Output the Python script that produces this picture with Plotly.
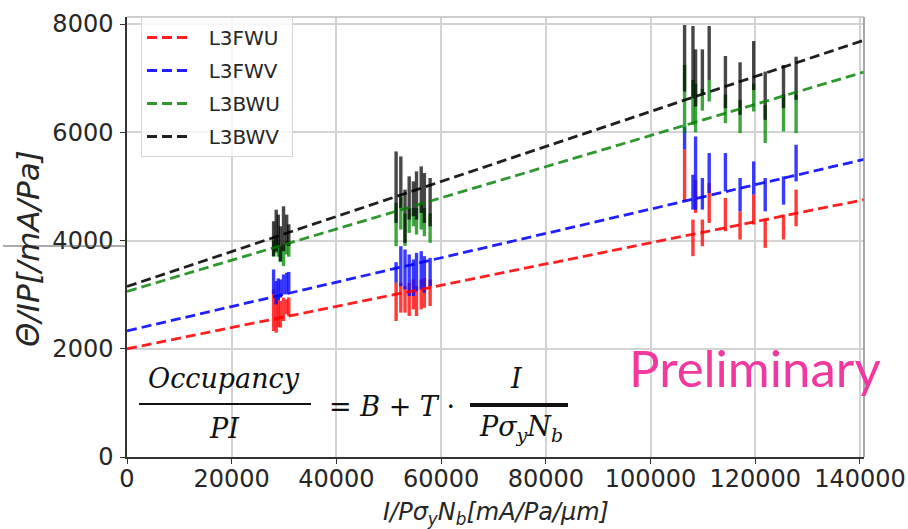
import plotly.graph_objects as go

# ---------------- data ----------------
SERIES = ["L3FWU", "L3FWV", "L3BWU", "L3BWV"]

X_POINTS = [28000, 28500, 28900, 29300, 29900, 30500, 30900,
            51400, 52300, 53100, 53900, 54700, 55300, 56200, 56800, 57900,
            106500, 108100, 108600, 109900, 111200, 114300, 117100, 119700, 121900, 125400, 127800]

RED_LOW = [2329, 2298, 2400, 2390, 2513, 2636, 2600,
           2513, 2667, 2667, 2605, 2728, 2605, 2728, 2759, 2789,
           4725, 3711, 4510, 3895, 4325, 4172, 4018, 4295, 3865, 4018, 4264]
RED_HIGH = [3097, 3004, 2950, 2882, 2943, 2912, 2950,
            3219, 3219, 3158, 3219, 3281, 3158, 3281, 3312, 3281,
            5677, 4387, 5124, 4387, 5063, 4786, 4540, 4848, 4387, 4479, 4940]

BLUE_LOW = [3004, 2820, 2900, 2943, 3004, 3004, 3050,
            3219, 3158, 3097, 2974, 2974, 3066, 3097, 3035, 3158,
            5677, 4571, 4571, 4571, 4878, 4909, 4540, 4848, 4540, 4663, 5093]
BLUE_HIGH = [3465, 3250, 3300, 3281, 3373, 3404, 3420,
             3600, 3895, 3834, 3742, 3650, 3772, 3803, 3711, 3680,
             6100, 5216, 5923, 5155, 5616, 5616, 5155, 5462, 5155, 5186, 5769]

GREEN_LOW = [3700, 3772, 3700, 3600, 3527, 3742, 3700,
             3895, 4202, 3900, 4141, 4264, 4110, 4202, 4080, 3957,
             5984, 6138, 6000, 6400, 6568, 6169, 5984, 6384, 5800, 6015, 5984]
GREEN_HIGH = [4000, 4049, 3950, 3900, 3926, 3987, 3950,
              4700, 4800, 4500, 4600, 4600, 4600, 4700, 4600, 4500,
              7244, 6967, 6900, 6800, 6967, 6700, 6600, 6900, 6500, 6700, 6700]

BLACK_LOW = [3711, 3803, 3865, 3619, 3803, 3926, 3900,
             4326, 4603, 3957, 4387, 4448, 4387, 4510, 4325, 4264,
             6752, 6629, 6476, 6722, 6967, 6445, 6322, 6783, 6230, 6445, 6599]
BLACK_HIGH = [4356, 4571, 4479, 4264, 4633, 4479, 4300,
              5646, 5554, 4940, 5186, 5093, 5278, 5370, 5247, 5155,
              7981, 7963, 7532, 7532, 7963, 7410, 7293, 7686, 7121, 7244, 7397]

# fit: Occupancy/PI = B + T * x
FIT_B = [2000, 2330, 3060, 3150]
FIT_T = [0.01957, 0.02251, 0.0288, 0.03234]

X_TICKS = [0, 20000, 40000, 60000, 80000, 100000, 120000, 140000]
Y_TICKS = [0, 2000, 4000, 6000, 8000]
X_RANGE = [0, 140770]
Y_RANGE = [0, 8130]

# ---------------- style ----------------
BAR_COLORS = ["rgba(255,15,15,0.82)", "rgba(15,15,255,0.82)",
              "rgba(0,135,0,0.75)", "rgba(0,0,0,0.72)"]
LINE_COLORS = ["rgba(255,0,0,0.88)", "rgba(0,0,255,0.88)",
               "rgba(0,128,0,0.82)", "rgba(0,0,0,0.88)"]

lows = [RED_LOW, BLUE_LOW, GREEN_LOW, BLACK_LOW]
highs = [RED_HIGH, BLUE_HIGH, GREEN_HIGH, BLACK_HIGH]

fig = go.Figure()

for i, name in enumerate(SERIES):
    lo, hi = lows[i], highs[i]
    fig.add_trace(go.Scatter(
        x=X_POINTS, y=lo, mode="markers",
        marker=dict(color="rgba(0,0,0,0)", size=1),
        error_y=dict(type="data", symmetric=False,
                     array=[h - l for l, h in zip(lo, hi)],
                     arrayminus=[0] * len(lo),
                     color=BAR_COLORS[i], thickness=3.4, width=0),
        showlegend=False, hoverinfo="skip"))

NBSP = "\u00a0"
for i, name in enumerate(SERIES):
    xs = [X_RANGE[0], X_RANGE[1]]
    ys = [FIT_B[i] + FIT_T[i] * xv for xv in xs]
    fig.add_trace(go.Scatter(
        x=xs, y=ys, mode="lines", name=NBSP * 2 + name + NBSP, legendgroup=name,
        line=dict(color=LINE_COLORS[i], width=2.8, dash="10px,5px")))

W, H = 908, 529
L, R, T, B = 127, 44, 17, 72
PW, PH = W - L - R, H - T - B


def px(xp):
    return (xp - L) / PW


def py(yp):
    return (H - B - yp) / PH


axis_common = dict(showgrid=True, gridcolor="#d3d3d3", gridwidth=1.5,
                   showline=True, linecolor="#333333", linewidth=1.5,
                   ticks="outside", ticklen=5, tickwidth=1.2, tickcolor="#333333",
                   tickfont=dict(family="DejaVu Sans", size=24, color="#262626"),
                   zeroline=False, automargin=False)

fig.update_xaxes(range=X_RANGE, tickvals=X_TICKS,
                 ticktext=[str(v) for v in X_TICKS], ticklabelstandoff=-6, **axis_common)
fig.update_yaxes(range=Y_RANGE, tickvals=Y_TICKS,
                 ticktext=[str(v) for v in Y_TICKS], ticklabelstandoff=2, **axis_common)

serif = dict(family="DejaVu Serif", size=27, color="#111111")
annotations = [
    dict(x=px(224), y=py(378), text="<i>Occupancy</i>", font=serif),
    dict(x=px(224), y=py(428), text="<i>PI</i>", font=serif),
    dict(x=px(392), y=py(406), text="= <i>B</i> + <i>T</i> ·", font=serif),
    dict(x=px(516), y=py(378), text="<i>I</i>", font=serif),
    dict(x=px(521), y=py(428), text="<i>Pσ<sub>y</sub>N<sub>b</sub></i>", font=serif),
    dict(x=px(755), y=py(367), text="Preliminary",
         font=dict(family="Lato", size=51, color="#f0389f")),
    dict(x=px(28), y=py(249), text="<i>Θ/IP[/mA/Pa]</i>", textangle=-90,
         font=dict(family="DejaVu Sans", size=31, color="#262626")),
    dict(x=px(496), y=py(513), text="<i>I/Pσ<sub>y</sub>N<sub>b</sub>[mA/Pa/μm]</i>",
         font=dict(family="DejaVu Sans", size=24, color="#262626")),
]
for a in annotations:
    a.update(xref="paper", yref="paper", showarrow=False,
             xanchor="center", yanchor="middle")

shapes = [
    dict(type="line", xref="paper", yref="paper", x0=px(139), x1=px(311),
         y0=py(404), y1=py(404), line=dict(color="#111111", width=2)),
    dict(type="line", xref="paper", yref="paper", x0=px(470), x1=px(568),
         y0=py(405), y1=py(405), line=dict(color="#111111", width=4)),
    dict(type="line", xref="paper", yref="paper", x0=px(3), x1=px(125),
         y0=py(246), y1=py(246), line=dict(color="#555555", width=1)),
    dict(type="line", xref="paper", yref="paper", x0=1, x1=1, y0=0, y1=1,
         line=dict(color="#8a8a8a", width=1.5)),
    dict(type="line", xref="paper", yref="paper", x0=0, x1=1, y0=1, y1=1,
         line=dict(color="#bdbdbd", width=1.5)),
]

fig.update_layout(
    width=W, height=H,
    margin=dict(l=L, r=R, t=T, b=B, pad=0, autoexpand=False),
    plot_bgcolor="white", paper_bgcolor="white",
    annotations=annotations, shapes=shapes,
    legend=dict(x=px(141), y=py(17), xanchor="left", yanchor="top",
                bgcolor="rgba(255,255,255,0.8)", bordercolor="#d5d5d5", borderwidth=1,
                font=dict(family="DejaVu Sans", size=20, color="#262626"),
                tracegroupgap=4, itemwidth=44),
    showlegend=True,
)

fig.write_html("out.html")
